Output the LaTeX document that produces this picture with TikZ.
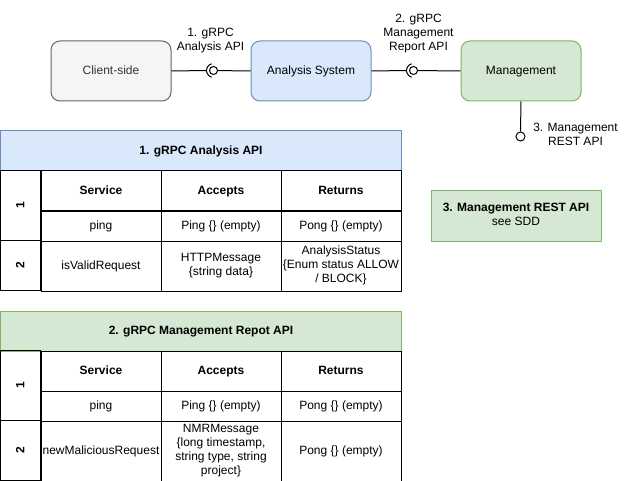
\documentclass[tikz,border=0pt]{standalone}
\usepackage{fontspec}
\setmainfont{Liberation Sans}
\definecolor{greyfill}{HTML}{F5F5F5}
\definecolor{greyline}{HTML}{666666}
\definecolor{greytext}{HTML}{333333}
\definecolor{bluefill}{HTML}{DAE8FC}
\definecolor{blueline}{HTML}{6C8EBF}
\definecolor{greenfill}{HTML}{D5E8D4}
\definecolor{greenline}{HTML}{82B366}
\newcommand{\topstrut}{\rule{0pt}{10.8pt}}
\newcommand{\botstrut}{\rule[-3.2pt]{0pt}{3.2pt}}
\begin{document}
\begin{tikzpicture}[x=1pt,y=-1pt,line width=1pt,
  txt/.style={font=\fontsize{12}{14}\selectfont, align=center, inner sep=0pt,
    execute at begin node=\topstrut, execute at end node=\botstrut},
  comp/.style={txt, rounded corners=9pt, minimum width=120pt, minimum height=60pt, anchor=north west},
  cell/.style={txt, draw=black, anchor=north west, minimum width=120pt},
  rowlab/.style={txt, draw=black, rotate=90, minimum height=40pt, font=\fontsize{12}{14}\selectfont\bfseries},
  hdr/.style={txt, anchor=north west, minimum width=400pt, minimum height=40pt, font=\fontsize{12}{14}\selectfont\bfseries},
  ball/.style={draw=black, fill=white, circle, inner sep=0pt},
  lbl/.style={txt, text=black}
]
\useasboundingbox (-0.5,-0.5) rectangle (625.5,480.5);

% components
\node[comp, draw=greyline, fill=greyfill, text=greytext] (client) at (50,40) {Client-side};
\node[comp, draw=blueline, fill=bluefill] (analysis) at (250,40) {Analysis System};
\node[comp, draw=greenline, fill=greenfill] (mgmt) at (460,40) {Management};

% interface 1
\node[ball, minimum size=8pt] (ball1) at (213,70) {};
\coordinate (sock1) at (206,70);
\draw (client.east) -- (sock1);
\draw (ball1) -- (analysis.west);
\draw ([shift={(105:7pt)}]ball1.center) arc[start angle=105, end angle=255, radius=7pt];
\node[lbl] (l1) at (210,40) {1. gRPC\\Analysis API};

% interface 2
\node[ball, minimum size=8pt] (ball2) at (413,70) {};
\coordinate (sock2) at (406,70);
\draw (analysis.east) -- (sock2);
\draw (ball2) -- (mgmt.west);
\draw ([shift={(105:7pt)}]ball2.center) arc[start angle=105, end angle=255, radius=7pt];
\node[lbl] (l2) at (418,33) {2. gRPC\\Management\\Report API};

% interface 3
\node[ball, minimum size=9pt] (ball3) at (520,136) {};
\draw (mgmt.south) -- (ball3.north);
\node[lbl] (l3) at (575,135) {3. Management\\REST API};

% REST box
\node[txt, draw=greenline, fill=greenfill, minimum width=170pt, minimum height=50pt, anchor=north west] (rest) at (430,190)
  {\textbf{3. Management REST API}\\see SDD};

% table 1
\node[hdr, draw=blueline, fill=bluefill] (t1h) at (0,130) {1. gRPC Analysis API};
\node[rowlab, minimum width=70pt] (t1r1) at (20,205) {1};
\node[rowlab, minimum width=50pt] (t1r2) at (20,265) {2};
\node[cell, minimum height=40pt, font=\fontsize{12}{14}\selectfont\bfseries] (t1a) at (40,170) {Service};
\node[cell, minimum height=40pt, font=\fontsize{12}{14}\selectfont\bfseries] (t1b) at (160,170) {Accepts};
\node[cell, minimum height=40pt, font=\fontsize{12}{14}\selectfont\bfseries] (t1c) at (280,170) {Returns};
\node[cell, minimum height=30pt] (t1d) at (40,210) {ping};
\node[cell, minimum height=30pt] (t1e) at (160,210) {Ping \{\} (empty)};
\node[cell, minimum height=30pt] (t1f) at (280,210) {Pong \{\} (empty)};
\node[cell, minimum height=50pt] (t1g) at (40,240) {isValidRequest};
\node[cell, minimum height=50pt] (t1h2) at (160,240) {HTTPMessage\\\{string data\}};
\node[cell, minimum height=50pt] (t1i) at (280,240) {AnalysisStatus\\\{Enum status ALLOW\\/ BLOCK\}};

% table 2
\node[hdr, draw=greenline, fill=greenfill] (t2h) at (0,310) {2. gRPC Management Repot API};
\node[rowlab, minimum width=70pt] (t2r1) at (20,385) {1};
\node[rowlab, minimum width=60pt] (t2r2) at (20,450) {2};
\node[cell, minimum height=40pt, font=\fontsize{12}{14}\selectfont\bfseries] (t2a) at (40,350) {Service};
\node[cell, minimum height=40pt, font=\fontsize{12}{14}\selectfont\bfseries] (t2b) at (160,350) {Accepts};
\node[cell, minimum height=40pt, font=\fontsize{12}{14}\selectfont\bfseries] (t2c) at (280,350) {Returns};
\node[cell, minimum height=30pt] (t2d) at (40,390) {ping};
\node[cell, minimum height=30pt] (t2e) at (160,390) {Ping \{\} (empty)};
\node[cell, minimum height=30pt] (t2f) at (280,390) {Pong \{\} (empty)};
\node[cell, minimum height=60pt] (t2g) at (40,420) {newMaliciousRequest};
\node[cell, minimum height=60pt] (t2h2) at (160,420) {NMRMessage\\\{long timestamp,\\string type, string\\project\}};
\node[cell, minimum height=60pt] (t2i) at (280,420) {Pong \{\} (empty)};
\end{tikzpicture}
\end{document}
